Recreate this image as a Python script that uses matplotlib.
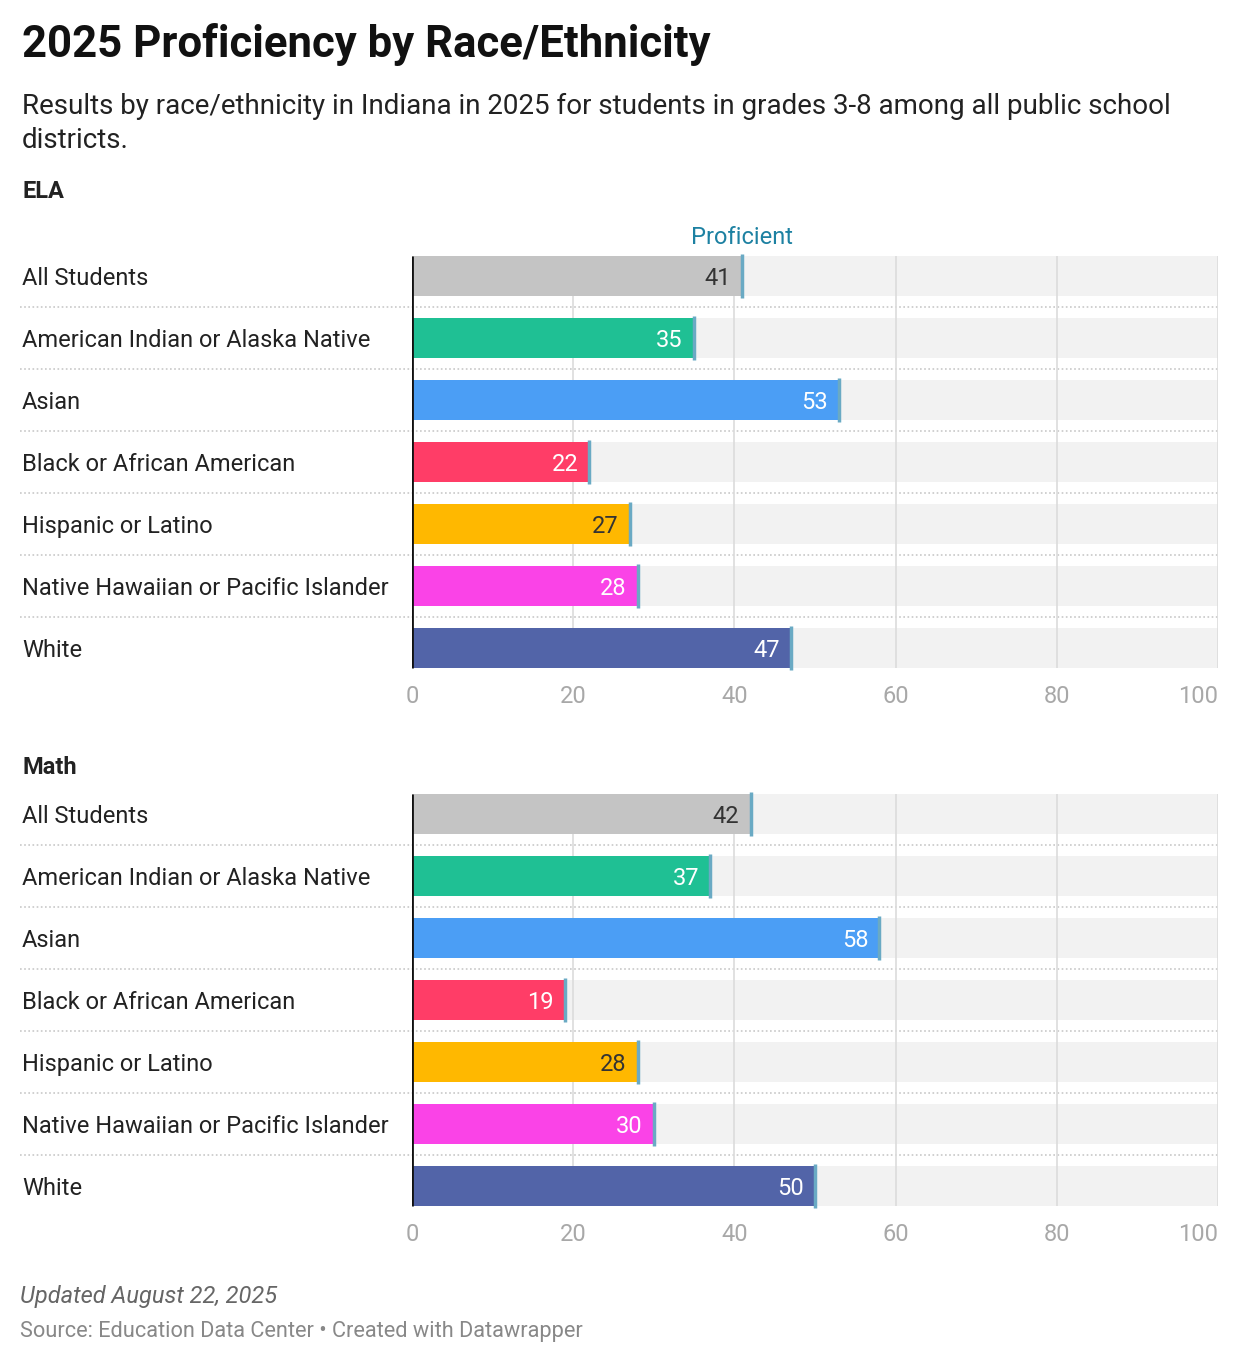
import matplotlib.pyplot as plt
from matplotlib.transforms import blended_transform_factory

plt.rcParams["font.family"] = ["Roboto", "DejaVu Sans"]

groups = ["All Students", "American Indian or Alaska Native", "Asian",
          "Black or African American", "Hispanic or Latino",
          "Native Hawaiian or Pacific Islander", "White"]
ela = [41, 35, 53, 22, 27, 28, 47]
math = [42, 37, 58, 19, 28, 30, 50]
colors = ["#c4c4c4", "#1fc094", "#4b9ef5", "#ff3d67", "#ffb800", "#fa43e7", "#5264a8"]
label_colors = ["#333333", "white", "white", "white", "#333333", "white", "white"]
xticks = [0, 20, 40, 60, 80, 100]

W, H = 1240, 1366
fig = plt.figure(figsize=(W / 100, H / 100), dpi=100)
fig.patch.set_facecolor("white")

def fy(px):
    return 1 - px / H

bar_h = 40 / 62

def draw_panel(top_px, vals, label_proficient=False):
    ax = fig.add_axes([412 / W, fy(top_px + 434), 806 / W, 434 / H])
    n = len(vals)
    y = list(range(n))
    ax.set_xlim(0, 100)
    ax.set_ylim(n - 0.5, -0.5)
    # background bars
    ax.barh(y, [100] * n, height=bar_h, color="#f2f2f2", zorder=1)
    # grid lines
    ax.vlines(xticks[1:], -bar_h / 2, n - 1 + bar_h / 2, color="#dcdcdc", lw=1.2, zorder=2)
    ax.barh(y, vals, height=bar_h, color=colors, zorder=3)
    # proficient markers
    for i, v in enumerate(vals):
        ax.plot([v, v], [i - bar_h / 2 - 0.04, i + bar_h / 2 + 0.04], color="#6aaac4",
                lw=2.5, solid_capstyle="butt", zorder=5, clip_on=False)
        ax.annotate(str(v), (v, i), xytext=(-8, 0), textcoords="offset points",
                    ha="right", va="center_baseline", fontsize=17, color=label_colors[i], zorder=6)
    ax.vlines(0, -bar_h / 2, n - 1 + bar_h / 2, color="#111111", lw=2, zorder=4)
    # row labels and separators
    tr = blended_transform_factory(fig.transFigure, ax.transData)
    for i, g in enumerate(groups):
        ax.text(22 / W, i, g, transform=tr, ha="left", va="center_baseline", fontsize=17, color="#222222")
    for i in range(n - 1):
        ax.plot([20 / W, 1220 / W], [i + 0.5, i + 0.5], transform=tr, color="#c8c8c8",
                lw=1.2, ls=(0, (1, 1.5)), clip_on=False, zorder=1)
    if label_proficient:
        ax.text(vals[0], -bar_h / 2 - 0.3, "Proficient", ha="center", va="center",
                fontsize=17, color="#1d81a2")
    ax.set_yticks([])
    ax.set_xticks(xticks)
    ax.tick_params(axis="x", length=0, pad=4, labelsize=17, labelcolor="#a8a8a8")
    ax.get_xticklabels()[-1].set_horizontalalignment("right")
    for s in ax.spines.values():
        s.set_visible(False)
    return ax

draw_panel(245, ela, label_proficient=True)
draw_panel(783, math)

fig.text(22 / W, fy(45), "2025 Proficiency by Race/Ethnicity", fontsize=31.5,
         fontweight="bold", va="center", color="#111111")
fig.text(22 / W, fy(106), "Results by race/ethnicity in Indiana in 2025 for students in grades 3-8 among all public school",
         fontsize=20, va="center", color="#222222")
fig.text(22 / W, fy(140), "districts.", fontsize=20, va="center", color="#222222")
fig.text(22 / W, fy(192), "ELA", fontsize=17, fontweight="bold", va="center", color="#222222")
fig.text(22 / W, fy(768), "Math", fontsize=17, fontweight="bold", va="center", color="#222222")
fig.text(20 / W, fy(1296), "Updated August 22, 2025", fontsize=17, style="italic",
         va="center", color="#666666")
fig.text(20 / W, fy(1332), "Source: Education Data Center \u2022 Created with Datawrapper",
         fontsize=15.7, va="center", color="#888888")

fig.savefig("out.png", dpi=100)
